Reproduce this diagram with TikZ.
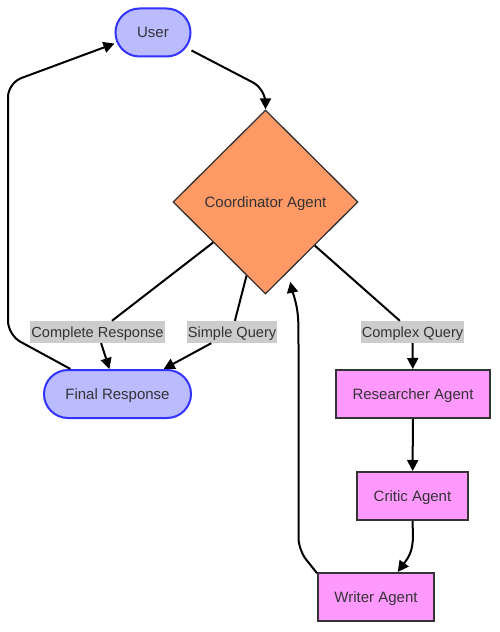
\documentclass[tikz,border=0pt]{standalone}
\usepackage{fontspec}
\setmainfont{Liberation Sans}
\usetikzlibrary{shapes.geometric,arrows.meta}
\definecolor{txt}{HTML}{333333}
\definecolor{bluefill}{HTML}{BBBBFF}
\definecolor{bluestroke}{HTML}{3333FF}
\definecolor{orangefill}{HTML}{FF9966}
\definecolor{pinkfill}{HTML}{FF99FF}
\definecolor{lblbg}{HTML}{CCCCCC}
\tikzset{
  every node/.style={text=txt, font=\fontsize{15bp}{18bp}\selectfont, text height=10.7bp, text depth=0pt},
  pill/.style={rectangle, rounded corners=24bp, fill=bluefill, draw=bluestroke, line width=2bp, minimum height=48bp, inner sep=0pt},
  decide/.style={diamond, fill=orangefill, draw=txt, line width=1.3bp, minimum width=185bp, minimum height=184bp, inner sep=0pt},
  agent/.style={rectangle, fill=pinkfill, draw=txt, line width=2bp, minimum height=48bp, inner sep=0pt},
  elabel/.style={rectangle, fill=lblbg, inner xsep=1bp, inner ysep=0pt, minimum height=22bp, font=\fontsize{14.6bp}{17bp}\selectfont, text height=10.4bp},
  conn/.style={line width=2bp, draw=black},
  arr/.style={conn, -{Triangle[length=11bp,width=11bp]}}
}
\begin{document}
\begin{tikzpicture}[x=1bp,y=-1bp]
\useasboundingbox (0,0) rectangle (500,632);
\node[pill, minimum width=75bp] (user) at (153,32.5) {User};
\node[decide] (coord) at (265.5,202) {Coordinator Agent};
\node[pill, minimum width=147bp] (final) at (117.5,394) {Final Response};
\node[agent, minimum width=154bp] (res) at (413,394) {Researcher Agent};
\node[agent, minimum width=111bp] (critic) at (412.5,496) {Critic Agent};
\node[agent, minimum width=116bp] (writer) at (376,597) {Writer Agent};
\node[elabel] (lbl1) at (97.5,332) {Complete Response};
\node[elabel] (lbl2) at (232,332) {Simple Query};
\node[elabel] (lbl3) at (412.5,332) {Complex Query};

\draw[arr, rounded corners=14bp] (user.-25) -- (265.5,89) -- (coord.north);
\draw[conn] (coord) -- (lbl1);
\draw[arr] (lbl1) -- (final);
\draw[conn] (coord) -- (lbl2);
\draw[arr] (lbl2) -- (final);
\draw[conn] (coord) -- (lbl3);
\draw[arr] (lbl3) -- (res);
\draw[arr] (res) -- (critic);
\draw[arr] (critic.south) -- (413,535) .. controls (413,552) and (408,558) .. (writer.49);
\draw[arr, rounded corners=12bp, shorten >=10bp] (writer.158) -- (298.5,550) -- (298.5,335) .. controls (298,305) and (292,290) .. (coord.-72);
\draw[arr, rounded corners=14bp] (final.152) -- (8,335) -- (8,83) -- (user.196);
\end{tikzpicture}
\end{document}
